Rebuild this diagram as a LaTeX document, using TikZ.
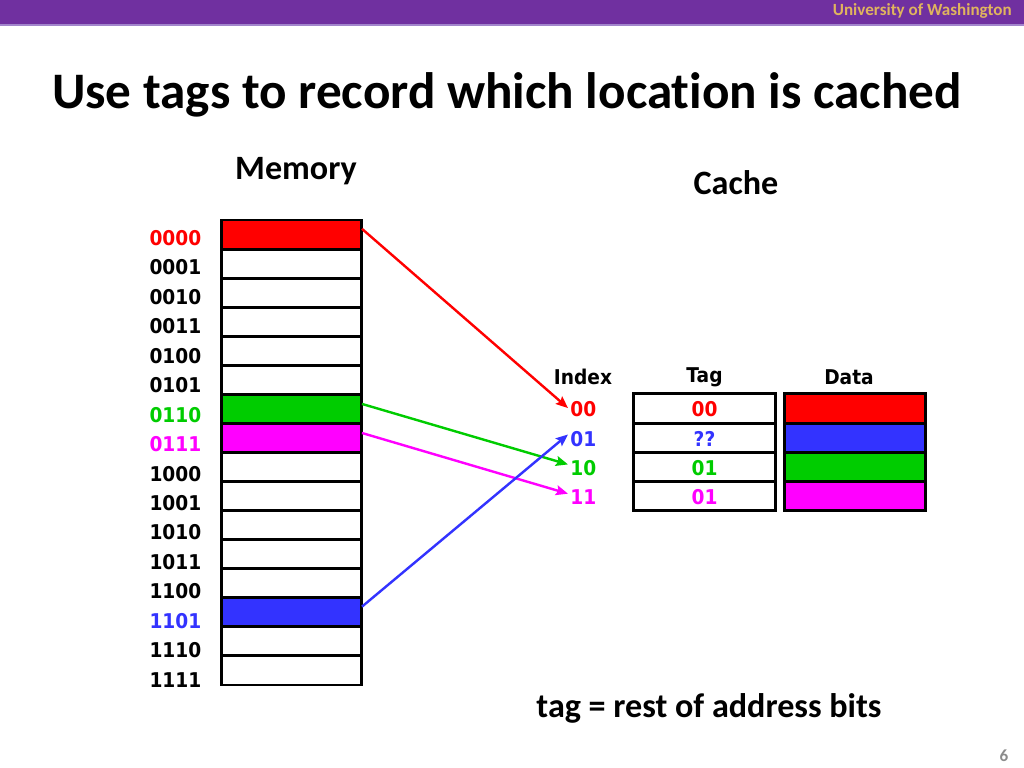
\documentclass[tikz,border=0pt]{standalone}
\usepackage{fontspec}
\setmainfont{Carlito}[Ligatures=NoCommon]
\newfontfamily\dv{DejaVu Sans}[FakeStretch=0.915]
\usetikzlibrary{arrows.meta,calc}
\definecolor{ured}{HTML}{FF0000}
\definecolor{ugreen}{HTML}{00CC00}
\definecolor{umag}{HTML}{FF00FF}
\definecolor{ublue}{HTML}{3333FF}
\definecolor{upurple}{HTML}{7030A0}
\definecolor{ulav}{HTML}{A285CC}
\definecolor{ugold}{HTML}{E0B45E}
\definecolor{ugray}{HTML}{8C8C8C}
\begin{document}
\begin{tikzpicture}[x=0.703125pt,y=-0.703125pt,
  cell/.style={draw=black, line width=2.1pt, minimum width=99.1pt, minimum height=20.43pt, inner sep=0pt, outer sep=0pt},
  crow/.style={draw=black, line width=2.1pt, minimum width=99.4pt, minimum height=20.57pt, inner sep=0pt, outer sep=0pt},
  mlab/.style={font=\dv\bfseries\fontsize{14.3pt}{16pt}\selectfont, inner sep=1pt},
  head/.style={font=\bfseries\fontsize{24pt}{28pt}\selectfont, inner sep=0pt},
  arr/.style={line width=1.7pt, -{Stealth[length=8.5pt,width=7pt,inset=1.5pt]}}]
\useasboundingbox (0,0) rectangle (1024,768);
\fill[white] (0,0) rectangle (1024,768);
% banner
\fill[upurple] (0,0) rectangle (1024,24);
\fill[ulav] (0,24) rectangle (1024,26);
\node[anchor=east, text=ugold, font=\bfseries\fontsize{12pt}{14pt}\selectfont, inner sep=0pt] (uw) at (1012,11) {University of Washington};
% title
\node[font=\bfseries\fontsize{36pt}{42pt}\selectfont, inner sep=0pt] (title) at (507,95) {Use tags to record which location is cached};
\node[head] (memh) at (296,171) {Memory};
\node[head] (cacheh) at (736,183) {Cache};
% memory
\foreach \i/\lab/\fc/\tc in {0/0000/ured/ured, 1/0001/white/black, 2/0010/white/black, 3/0011/white/black,
  4/0100/white/black, 5/0101/white/black, 6/0110/ugreen/ugreen, 7/0111/umag/umag,
  8/1000/white/black, 9/1001/white/black, 10/1010/white/black, 11/1011/white/black,
  12/1100/white/black, 13/1101/ublue/ublue, 14/1110/white/black, 15/1111/white/black}{
  \node[cell, fill=\fc] (m\i) at (291.5, {234.53+29.0625*\i}) {};
  \node[mlab, text=\tc, anchor=east] (l\i) at (203, {238+29.45*\i}) {\lab};
}
% cache headers
\node[mlab] (ih) at (583,377) {Index};
\node[mlab] (th) at (704.5,377) {Tag};
\node[mlab] (dh) at (849,377) {Data};
% cache rows
\foreach \j/\ix/\tg/\col in {0/00/00/ured, 1/01/??/ublue, 2/10/01/ugreen, 3/11/01/umag}{
  \node[crow, fill=white] (t\j) at (704.5, {408.6+29.25*\j}) {};
  \node[crow, fill=\col] (d\j) at (855, {408.6+29.25*\j}) {};
  \node[mlab, text=\col] (tt\j) at (704.5, {409.5+29.25*\j}) {\tg};
  \node[mlab, text=\col, anchor=west, inner sep=1.5pt] (i\j) at (568, {409.5+29.25*\j}) {\ix};
}
% arrows
\draw[arr, ured] ([yshift=4pt]m0.east) -- ([yshift=1pt]i0.west);
\draw[arr, ugreen] ([yshift=3.5pt]m6.east) -- ([yshift=2.5pt]i2.west);
\draw[arr, umag] ([yshift=3.5pt]m7.east) -- ([yshift=2.5pt]i3.west);
\draw[arr, ublue] ([yshift=4pt]m13.east) -- ([yshift=3pt]i1.west);
% footer
\node[head] (note) at (709,708) {tag = rest of address bits};
\node[text=ugray, font=\bfseries\fontsize{12pt}{14pt}\selectfont, inner sep=0pt] (pg) at (1004,756) {6};
\end{tikzpicture}
\end{document}
